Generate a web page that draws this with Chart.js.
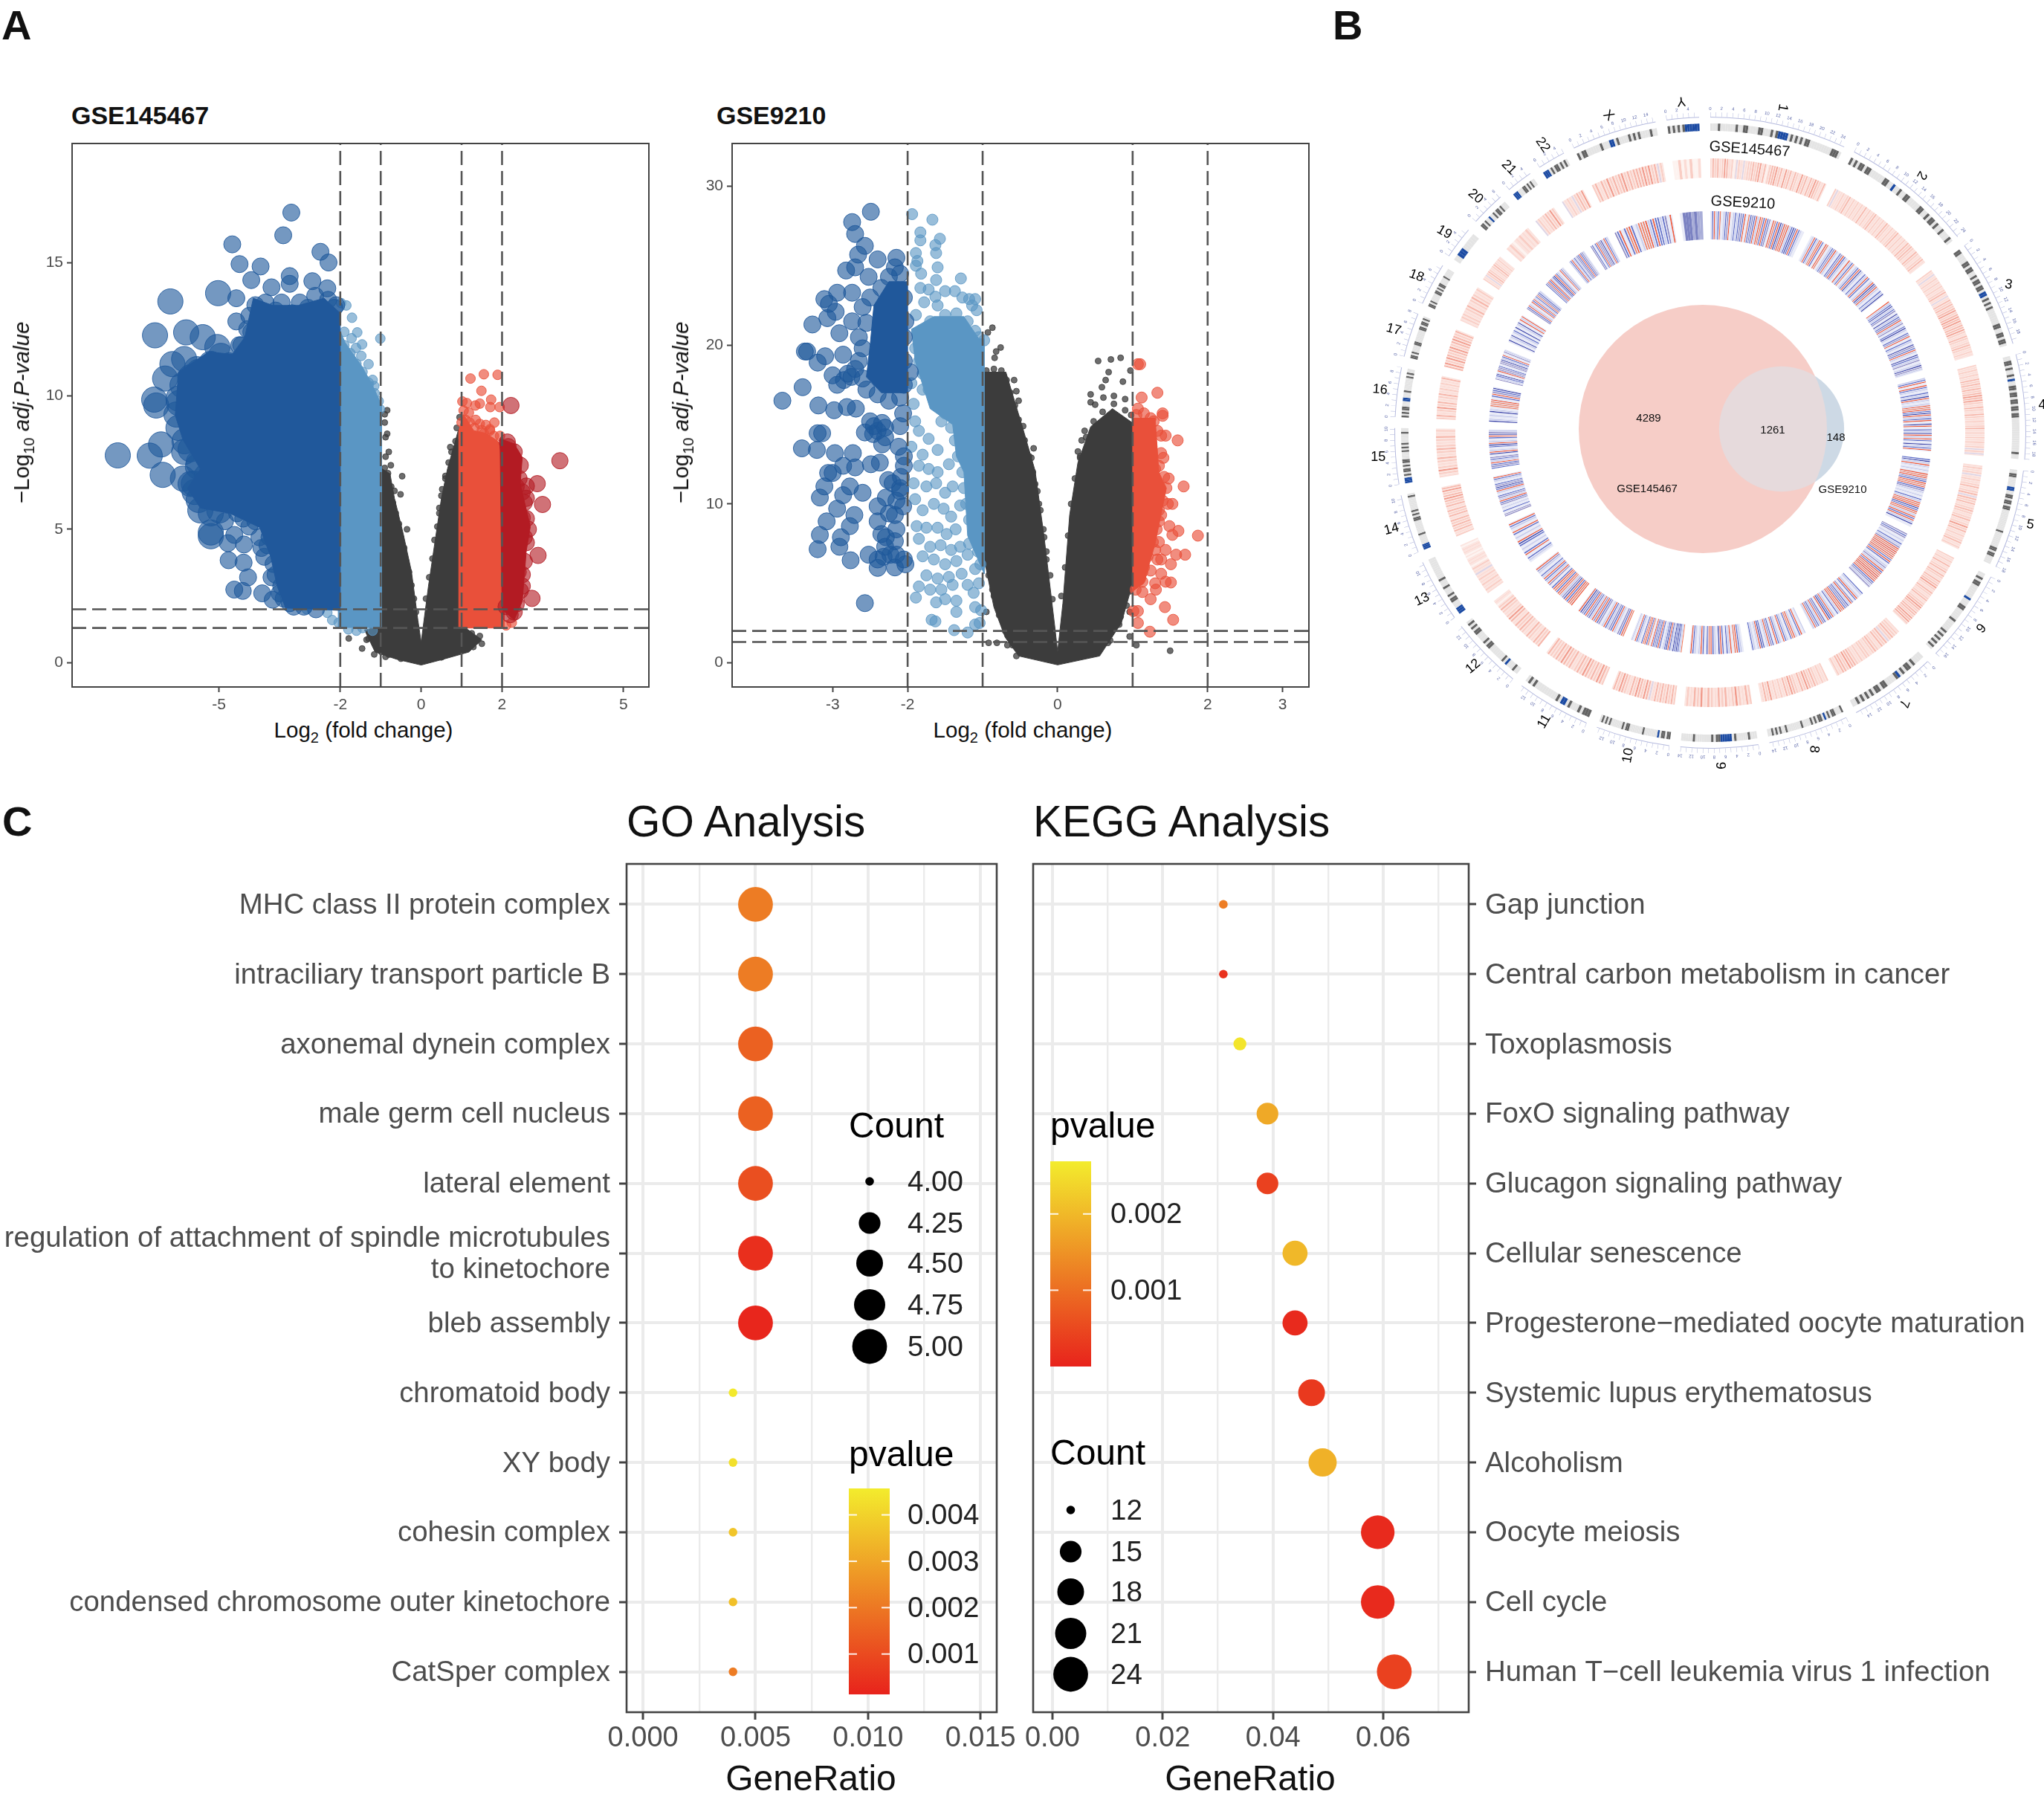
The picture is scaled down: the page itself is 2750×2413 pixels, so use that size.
<!DOCTYPE html>
<html>
<head>
<meta charset="utf-8">
<title>GSE145467 / GSE9210 figure</title>
<script src="https://cdn.jsdelivr.net/npm/chart.js"></script>
<style>
  body { margin: 0; background: #fff; font-family: "Liberation Sans", sans-serif; }
  #page { position: relative; width: 2750px; height: 2413px; overflow: hidden; }
  canvas { position: absolute; }
  .t { position: absolute; white-space: nowrap; transform: translate(-50%, -50%); color: #111; z-index: 5; }
  .l { transform: translate(0, -50%); }
  sub { font-size: 68%; line-height: 0; }
</style>
</head>
<body>
<div id="page">
  <canvas id="vol1" width="890" height="780" style="left:0;top:180px"></canvas>
  <canvas id="vol2" width="1780" height="780" style="left:0;top:180px"></canvas>
  <canvas id="circos" width="960" height="960" style="left:1821px;top:102px"></canvas>
  <canvas id="venn" width="420" height="420" style="left:2080px;top:370px"></canvas>
  <canvas id="go" width="1375" height="1220" style="left:0;top:1150px"></canvas>
  <canvas id="kegg" width="1400" height="1220" style="left:1350px;top:1150px"></canvas>

  <div class="t l" style="left:2px;top:33px;font:bold 56px 'Liberation Sans'">A</div>
  <div class="t l" style="left:1793px;top:33px;font:bold 56px 'Liberation Sans'">B</div>
  <div class="t l" style="left:3px;top:1104px;font:bold 56px 'Liberation Sans'">C</div>

  <div class="t l" style="left:96px;top:155px;font:bold 34px 'Liberation Sans'">GSE145467</div>
  <div class="t l" style="left:964px;top:155px;font:bold 34px 'Liberation Sans'">GSE9210</div>
  <div class="t" style="left:489px;top:982px;font-size:29.5px">Log<sub>2</sub> (fold change)</div>
  <div class="t" style="left:1376px;top:982px;font-size:29.5px">Log<sub>2</sub> (fold change)</div>
  <div class="t" style="left:29px;top:555px;font-size:29.5px;transform:translate(-50%,-50%) rotate(-90deg)">&minus;Log<sub>10</sub> <i>adj.P-value</i></div>
  <div class="t" style="left:916px;top:555px;font-size:29.5px;transform:translate(-50%,-50%) rotate(-90deg)">&minus;Log<sub>10</sub> <i>adj.P-value</i></div>

  <div class="t" style="left:2354px;top:200px;font-size:20px;transform:translate(-50%,-50%) rotate(4deg)">GSE145467</div>
  <div class="t" style="left:2345px;top:272px;font-size:20px;transform:translate(-50%,-50%) rotate(3deg)">GSE9210</div>
  <div class="t" style="left:2218px;top:561px;font-size:15px">4289</div>
  <div class="t" style="left:2385px;top:577px;font-size:15px">1261</div>
  <div class="t" style="left:2470px;top:587px;font-size:15px">148</div>
  <div class="t" style="left:2216px;top:656px;font-size:15px">GSE145467</div>
  <div class="t" style="left:2479px;top:657px;font-size:15px">GSE9210</div>

  <div class="t l" style="left:843px;top:1104px;font-size:58.4px">GO Analysis</div>
  <div class="t l" style="left:1390px;top:1104px;font-size:58.4px">KEGG Analysis</div>
  <div class="t" style="left:1091px;top:2391px;font-size:48px">GeneRatio</div>
  <div class="t" style="left:1682px;top:2391px;font-size:48px">GeneRatio</div>
</div>

<script>
// ---- panel A: volcano plots
const vLines = [-2, -1, 1, 2];
const hLines = [1.301, 2];

const v1Ticks = { x: [-5, -2, 0, 2, 5], y: [0, 5, 10, 15] };
const v1Range = { x: [-8.63, 5.63], y: [-0.91, 19.46] };
const v1DarkArea = [[-2,1.96],[-2,13.1],[-2.4,13.66],[-3.04,13.39],[-3.67,13.39],[-4.15,13.66],[-4.36,12.2],[-4.67,11.56],[-5.25,11.65],[-6,10.9],[-6.08,9.27],[-5.89,8.36],[-5.46,7.26],[-5.78,6.53],[-5.46,5.8],[-4.73,5.6],[-3.99,5.07],[-3.72,3.97],[-3.56,2.87],[-3.35,2.05],[-2,1.96]];
const v1LightArea = [[-2.05,1.32],[-2.05,12.6],[-1.88,12],[-1.46,11.1],[-1.14,10.2],[-0.98,9.64],[-0.98,1.32],[-2.05,1.32]];
const v1GrayArea = [[-1,1.3],[-1,7.3],[-0.77,7.08],[-0.66,6.16],[-0.45,4.88],[-0.24,3.42],[-0.08,1.59],[0,0.77],[0.18,2.87],[0.34,4.52],[0.5,6.16],[0.65,7.26],[0.92,8.72],[1,1.41],[1.5,0.86],[1.18,0.4],[0.55,0.13],[0,-0.09],[-0.61,0.13],[-1.14,0.4],[-1.4,1.23],[-1,1.3]];
const v1RedArea = [[0.93,1.3],[0.93,8.7],[1.05,9.3],[1.3,8.7],[1.6,8.6],[1.9,8.3],[2.05,7.9],[2.05,1.3],[0.93,1.3]];
const v1DeepArea = [[1.95,8.4],[2.3,8.2],[2.5,7.7],[2.45,6.7],[2.7,5.1],[2.6,4.2],[2.5,2.3],[2.3,1.6],[2,2],[1.95,8.4]];
const v1Dark = [[-3.21,16.87],[-3.41,16.02],[-4.67,15.68],[-4.49,14.94],[-3.97,14.85],[-2.49,15.4],[-2.29,15],[-4.2,14.34],[-3.25,14.49],[-3.25,14.2],[-2.69,14.3],[-3.7,14.07],[-2.32,14.03],[-5.02,13.85],[-4.57,13.66],[-6.2,13.54],[-2.62,13.75],[-6.58,12.27],[-5.81,12.38],[-5.4,12.2],[-4.57,12.79],[-5.04,11.83],[-6.15,11.19],[-5.86,11.38],[-6.33,10.65],[-6.6,9.86],[-6.55,9.64],[-5.99,9.73],[-6.43,8.18],[-7.5,7.77],[-6.71,7.76],[-6.39,7.04],[-5.89,6.9],[-5.86,7.9],[-5.52,7.35],[-5.62,6.71],[-5.46,5.71],[-4.99,5.71],[-5.2,4.88],[-5.2,4.74],[-4.78,4.48],[-4.62,4.79],[-4.38,4.43],[-4.76,3.84],[-4.39,3.75],[-3.88,3.97],[-4.28,3.2],[-4.62,2.74],[-4.41,2.69],[-3.93,2.6],[-3.67,2.36],[-3.46,2.87],[-3.25,2.23],[-2.1,13.4],[-2.4,12.9],[-3.9,13],[-4.2,12.4],[-4.45,11.9],[-5.55,11],[-5.7,10.3],[-4.1,5.3],[-4.4,5.4],[-3.8,4.4],[-3.7,3.2],
  [-2.15,13.3],[-2.3,13.6],[-2.55,13.2],[-2.8,13.3],[-3,13.5],[-3.2,13.1],[-3.45,13.5],[-3.6,13.2],[-3.85,13.5],[-4.1,13.4],[-4.25,13],[-4.3,12.5],[-4.5,11.9],[-4.75,11.3],[-4.95,11.5],[-5.2,11.2],[-5.5,10.9],[-5.7,10.7],[-5.9,10.4],[-6,9.9],[-6.05,9.3],[-6,8.8],[-5.85,8.3],[-5.7,8],[-5.5,7.5],[-5.3,7],[-5.6,6.4],[-5.7,6.7],[-5.5,6.1],[-5.2,5.6],[-4.85,5.3],[-4.55,5.6],[-4.25,5.1],[-4,4.7],[-3.95,4.3],[-3.75,4.7],[-3.65,3.7],[-3.6,3.3],[-3.5,2.6],[-3.4,2.4],[-3.15,2.1],[-2.9,2.1],[-2.6,2],[-3.3,3.7],[-3.5,4.4]];
const v1Light = [[-1.85,13.39],[-1.98,13.48],[-1.71,12.93],[-1.58,12.38],[-1.72,12.16],[-1.46,11.93],[-1.01,12.15],[-1.61,11.8],[-1.3,11.19],[-1.48,11.5],[-1.56,10.74],[-1.16,10.37],[-1.3,10.4],[-1.75,11.4],[-2.83,2],[-2.32,1.87],[-2.04,1.5],[-2.2,1.6],[-1.8,1.25],[-1.45,1.3],
  [-1.9,11.9],[-1.75,11.6],[-1.6,11.2],[-1.45,10.9],[-1.3,10.5],[-1.15,10.1],[-1.05,9.8],[-1.2,10.6],[-1.4,10.6],[-1.65,11.1],[-1.02,9.5],[-1.9,12.4],[-1.6,1.2],[-1.2,1.2]];
const v1Gray = [[-0.84,9.46],[-0.9,9.31],[-0.84,8.58],[-0.88,8.45],[-0.8,7.9],[-0.88,7.72],[-0.47,6.99],[-0.51,6.31],[-0.66,6.44],[0.72,8.08],[0.84,7.9],[0.6,6.9],[0.5,6.26],[0.58,6.07],[0.81,7.35],[0.92,8.27],[-1.79,0.91],[-1.46,0.53],[-1.16,0.31],[-1.35,0.86],[-1.09,0.68],[-0.88,0.22],[-0.98,0.4],[-1.24,1.13],[-0.93,0.86],[1.5,0.71],[1.29,0.59],[-0.9,9],[-0.75,7.4],[-0.35,5],[0.45,5.6],[0.95,9.2],[0.88,8.8],
  [-0.9,7.3],[-0.82,7.1],[-0.74,6.6],[-0.7,6],[-0.63,5.6],[-0.55,5.2],[-0.5,4.7],[-0.42,4.3],[-0.37,3.8],[-0.3,3.4],[-0.24,2.9],[-0.18,2.4],[-0.13,1.9],[0.12,2.4],[0.2,3.2],[0.28,3.9],[0.33,4.6],[0.4,5.1],[0.45,5.8],[0.52,6.5],[0.6,7],[0.68,7.5],[0.75,7.9],[0.85,8.3],[-1.3,0.9],[-1.1,0.6],[-0.8,0.3],[-0.5,0.15],[0.5,0.2],[0.8,0.4],[1.1,0.6],[1.35,0.8],[1.45,1],[1.25,1.1],[-1.2,1.25]];
const v1Red = [[1.22,10.65],[1.55,10.81],[1.89,10.79],[1.49,10.19],[1.73,9.86],[1.13,9.73],[1.45,9.71],[1.02,9.79],[1.34,9.64],[1.71,9.58],[1.94,9.58],[1.18,9.37],[1.81,9],[1.13,8.73],[1.5,8.72],[1.6,8.91],[2.24,1.5],[1.35,9.1],[1.05,9.45],[1.7,8.75],[2.1,1.4],
  [1,9],[1.1,9.1],[1.2,9],[1.32,8.8],[1.45,8.95],[1.55,8.6],[1.7,8.7],[1.8,8.5],[1.95,8.5]];
const v1Deep = [[2.22,9.64],[3.43,7.57],[2.87,6.71],[2.6,6.62],[3,5.93],[2.89,4.02],[2.74,2.41],[2.6,6.16],[2.13,8.27],[2.29,7.63],[2.5,5.43],[2.55,4.7],[2.5,2.87],[2.4,3.4],[2.35,6.6],[2.3,1.9],
  [2.15,8.1],[2.3,7.9],[2.45,7.4],[2.42,6.9],[2.5,6.4],[2.55,6],[2.6,5.4],[2.65,5],[2.6,4.5],[2.55,3.8],[2.5,3.3],[2.45,2.7],[2.35,2.2],[2.2,1.8],[2.1,2.1]];

const v2Ticks = { x: [-3, -2, 0, 2, 3], y: [0, 10, 20, 30] };
const v2Range = { x: [-4.34, 3.35], y: [-1.53, 32.7] };
const v2DarkArea = [[-2,24],[-2.25,24],[-2.45,22.5],[-2.5,20],[-2.55,18],[-2.35,17],[-2,17],[-2,24]];
const v2LightArea = [[-1.65,21.8],[-1.25,21.8],[-1.05,20.4],[-0.98,20.4],[-0.98,5.6],[-1.2,8],[-1.25,12],[-1.35,13],[-1.4,15],[-1.7,16],[-1.9,19],[-1.95,21],[-1.65,21.8]];
const v2GrayArea = [[-1,18.3],[-0.69,18.3],[-0.47,14.86],[-0.3,12.08],[-0.18,7.9],[-0.04,2.36],[0,0.69],[0.07,3.75],[0.16,9.3],[0.27,12.6],[0.44,14.86],[0.73,16],[1,15.1],[1,5],[0.85,2.5],[0.56,0.42],[0,-0.14],[-0.52,0.42],[-0.7,1.6],[-0.85,3.5],[-1,7],[-1,18.3]];
const v2RedArea = [[1,15.4],[1.3,15.4],[1.35,12],[1.45,11],[1.3,7.5],[1.15,5],[1,4.5],[1,15.4]];
const v2Dark = [[-2.49,28.4],[-2.74,27.75],[-2.7,27],[-2.57,26.25],[-2.66,25.7],[-2.82,24.7],[-2.7,24.9],[-2.4,25.4],[-2.15,25.5],[-2.17,24.9],[-2.52,24.3],[-2.94,23.3],[-2.74,23.3],[-3.11,22.9],[-3.05,22.6],[-2.96,22.1],[-3.07,21.7],[-3.27,21.3],[-2.91,20.75],[-2.74,21.5],[-3.37,19.6],[-3.34,19.6],[-3.1,19.3],[-3.2,18.9],[-2.86,19.4],[-3,18.1],[-2.94,17.5],[-3.4,17.35],[-3.67,16.5],[-3.19,16.2],[-2.98,15.9],[-2.81,16.1],[-2.69,16],[-3.2,14.45],[-3.14,14.45],[-2.57,14.5],[-2.46,14.4],[-3.41,13.5],[-3.21,13.4],[-2.97,13.2],[-2.73,13.2],[-2.34,15.1],[-2.34,13.75],[-2.12,13.6],[-2.86,12.4],[-2.7,12.3],[-2.49,12.5],[-2.37,12.6],[-3.06,11.95],[-3,11.95],[-3.11,11.1],[-3.17,10.4],[-2.77,11.1],[-2.6,10.7],[-2.86,10.55],[-2.94,9.7],[-2.71,9.3],[-2.4,9.85],[-2.26,11.5],[-3.08,8.9],[-3.17,8.05],[-2.77,8.6],[-2.89,7.9],[-3.2,7.15],[-2.91,7.3],[-2.76,6.45],[-2.52,6.8],[-2.4,5.97],[-2.4,6.5],[-2.17,6],[-2.03,6.2],[-2.57,3.75],[-2.29,7.9],[-2.17,7.65],[-2.4,8.9],[-2.06,9.85],[-2.09,11.7],[-2.03,21.5],[-1.97,18.3],[-2.06,15.7],[-2.29,10.4],[-2.17,9.3],[-2.23,6.8],[-2.32,6.67],[-2.1,10.8],[-2.15,8.4],[-2.3,14.8],[-2.5,15.2],[-2.8,18.2],[-2.85,17.8],
  [-2.1,24.5],[-2.25,24.3],[-2.35,23.6],[-2.5,23],[-2.6,22.4],[-2.55,21.4],[-2.65,20.5],[-2.6,19.8],[-2.65,19],[-2.7,18.5],[-2.6,17.9],[-2.55,17.2],[-2.4,16.9],[-2.25,16.5],[-2.1,16.7],[-2.05,17.5],[-2.05,19],[-2.05,20.5],[-2.05,23],[-2.75,18],[-2.45,14.9],[-2.4,14.6],[-2.3,14.2],[-2.2,11.3],[-2.1,11],[-2.05,12.4],[-2.15,10.2],[-2.25,9.4],[-2.35,8.1],[-2.3,7.3],[-2.15,6.8],[-2.05,6.5],[-2.1,14.9],[-2.05,13]];
const v2Light = [[-1.94,28.25],[-1.67,27.9],[-1.83,27.1],[-1.83,26.6],[-1.57,26.7],[-1.63,26.3],[-1.62,25.8],[-1.89,25.8],[-1.87,25.3],[-1.6,24.9],[-1.82,24.5],[-1.89,25],[-1.29,24.2],[-1.62,24.1],[-1.83,23.6],[-1.72,23.5],[-1.5,23.4],[-1.37,23.4],[-1.63,23.05],[-1.27,23],[-1.18,22.9],[-1.1,22.9],[-1.78,22.7],[-1.6,22.5],[-1.14,22.5],[-1.08,22.2],[-1.89,21.9],[-1.92,16.3],[-1.9,15.2],[-1.85,14.6],[-1.95,13.6],[-1.8,13.1],[-1.72,14.1],[-1.6,13.4],[-1.85,12.4],[-1.72,12.2],[-1.6,12],[-1.45,12.5],[-1.92,11.3],[-1.75,11.1],[-1.62,11.3],[-1.5,10.7],[-1.4,11.1],[-1.9,10.3],[-1.8,9.6],[-1.65,10],[-1.52,9.7],[-1.42,9.2],[-1.3,9.9],[-1.88,8.6],[-1.75,8.5],[-1.6,8.5],[-1.48,8.1],[-1.36,8.4],[-1.85,7.8],[-1.7,7.3],[-1.56,7.4],[-1.42,7.1],[-1.3,7.3],[-1.18,7.5],[-1.8,6.7],[-1.65,6.5],[-1.5,6.2],[-1.35,6.4],[-1.2,6.8],[-1.1,5.9],[-1.75,5.5],[-1.6,5.3],[-1.45,5.4],[-1.28,5.6],[-1.05,5],[-1.85,4.8],[-1.7,4.6],[-1.55,4.6],[-1.4,4.9],[-1.2,4.9],[-1.12,4.4],[-1.89,4.1],[-1.62,3.8],[-1.5,4],[-1.35,3.9],[-1.1,3.5],[-1.02,3.3],[-1.35,3.2],[-1.68,2.7],[-1.63,2.6],[-1.38,2.05],[-1.2,1.9],[-1.1,2.4],[-1.04,2.5],[-1.55,15.2],[-1.8,17.2],[-1.75,18.4],[-1.95,17.6],
  [-1.7,21.5],[-1.85,20.8],[-1.9,19.8],[-1.85,19],[-1.8,18.2],[-1.72,17.2],[-1.6,16.5],[-1.5,15.7],[-1.42,14.8],[-1.37,14],[-1.33,13],[-1.27,12],[-1.25,11],[-1.22,10],[-1.18,9],[-1.12,8],[-1.06,7],[-1.03,6.2],[-1.5,21.9],[-1.35,22],[-1.2,21.5],[-1.1,20.9],[-1.05,20.5],[-0.98,20.3],[-1.7,19],[-1.6,18],[-1.5,17]];
const v2Gray = [[-0.87,21.1],[-0.93,20.8],[-0.76,19.85],[-0.82,19.6],[-0.84,19.2],[-0.58,17.8],[-0.55,17.1],[-0.52,16.5],[-0.46,14.9],[-0.32,13.5],[-0.35,12.9],[-0.3,11.25],[-0.18,7.9],[-0.15,6.5],[-0.92,1.25],[-0.81,1.25],[-0.67,1.1],[-0.55,0.42],[-0.81,3.75],[-0.95,3.2],[-0.87,4.6],[-0.69,2.1],[-0.95,6.25],[-0.78,6],[-0.84,7.6],[0.54,19],[0.71,19.1],[0.84,19.2],[0.68,18.3],[0.97,18.4],[0.64,17.8],[0.87,17.7],[0.59,17.35],[0.44,16.9],[0.44,16.4],[0.5,16.25],[0.61,16.7],[0.36,14.6],[0.32,14],[0.27,13.3],[1.5,0.75],[1.05,1.1],[0.96,1.65],[0.67,1.25],[0.5,0.7],[0.84,2.9],[0.96,3.2],[0.73,2.4],[0.87,4.86],[0.61,3.75],[0.79,6.5],[0.9,5.7],[-0.6,16],[-0.42,13],[-0.25,10],[0.75,16.8],[0.9,16.6],[0.3,12.9],
  [-0.95,18.4],[-0.85,18.5],[-0.75,18.4],[-0.68,17.8],[-0.63,17],[-0.57,16.2],[-0.52,15.3],[-0.44,14],[-0.38,13],[-0.33,12],[-0.27,10.8],[-0.23,9.6],[-0.19,8.4],[-0.15,7],[-0.1,5.5],[-0.07,4],[-0.98,8],[-0.95,7],[-0.92,5.5],[-0.85,4.2],[-0.78,3],[-0.7,2],[-0.6,1.1],[0.05,4.2],[0.1,6],[0.14,8],[0.18,10],[0.23,11.6],[0.3,13],[0.38,14.2],[0.48,15.2],[0.6,15.8],[0.75,16.3],[0.9,15.9],[0.98,15.6],[0.97,4.5],[0.92,3.6],[0.82,2.4],[0.7,1.4],[0.55,0.8]];
const v2Red = [[1.07,18.8],[1.1,18.8],[1.33,17],[1.12,16.7],[1.07,16],[1.4,15.7],[1.4,15.55],[1.24,15.4],[1.44,14.3],[1.38,14.3],[1.6,14],[1.24,14],[1.41,12.9],[1.48,11.6],[1.68,11.1],[1.35,10.7],[1.47,10],[1.53,10],[1.38,9.3],[1.35,8.9],[1.49,8.6],[1.61,8.3],[1.53,8.05],[1.87,8],[1.44,7.1],[1.58,6.8],[1.7,6.8],[1.38,6.5],[1.51,6.2],[1.24,5.8],[1.51,5.05],[1.31,4.6],[1.13,4.45],[1.24,4],[1.43,3.5],[1.01,3.25],[1.07,3.25],[1.54,2.7],[1.07,2.5],[1.23,1.95],[1.13,5.1],[1.3,7.1],[1.21,7.9],[1.13,6.8],[1.35,7.6],[1.18,9.3],[1.44,5.1],[1.33,6.5],[1.38,5.6],[1.13,5.7],[1.3,5],[1.07,6.5],
  [1.05,15.6],[1.15,15.7],[1.28,15.2],[1.33,14.6],[1.38,13.2],[1.35,12.4],[1.42,11.7],[1.45,11],[1.4,10.2],[1.35,9.6],[1.32,8.4],[1.27,7.6],[1.2,6.7],[1.15,6],[1.1,5.3],[1.04,4.6],[1.25,13.6],[1.3,12.2]];

// ---- panel B: circos rings, one string per chromosome, one letter per stripe
const chromNames = ['1','2','3','4','5','6','7','8','9','10','11','12','13','14','15','16','17','18','19','20','21','22','X','Y'];
const chromSizes = [249,243,198,191,181,171,159,146,141,135,135,133,115,107,102,90,81,78,59,63,48,51,155,59];
const chromLabelTilt = [100,120,10,0,10,130,110,95,90,-80,-60,-40,-25,-15,0,5,15,20,30,40,45,55,45,175];
const ideogram = [
  '...d......d..dd....dd...d.dbbbb.d.d.d.dd.........ddd.',
  'd.d.dd.dd......dd..b..d..dd.....dd..d.dd.d..d...d.',
  'dd....dd.dd..d.dd.dd.bb.d.d.d.......dd..dd.dd.',
  '..dd.d..d.b..dd.dd.dd.dd.dd...............d..',
  '..dd.....bb..dd.dd.dd...........d........dd.dd....',
  '..d.dd......b...dd.....d.....d.d.d.d.d.',
  '....d.dd.d.bd....dd.dd.d.d.d.d..',
  'd...dd.d.b.dd.d.d....d.......d..d.d.d..',
  '...d.....d.bbbbbdd.d.......d.....',
  'dd.dd.b.......d.......dd.d......d.d.d.',
  'ddd.d...d.bb.d.........d.d.',
  '..d...b.d.......dd.d....dd.d.d.',
  'bbb...dd.d...d...d..........',
  'bbb.....d.......dd.d.d.......d.',
  'bbb.d.dd.d.dd....d.d.d.....d..',
  'd.d.dd...bb...d.......d.d..',
  'dd.d....dd.......dd.dd.d.',
  'dd.d.....dd.d.dd....d.....',
  '..bbb......',
  'dd.d..b..d.dd.d...',
  'bbb...dd.d.d..',
  'bbb.d.dd.d.d.',
  'd.dd......d...bb.d....d.d.d....d..',
  'd.d.d.dbbbbbb'
];
const heatA = [
  '13231243120v21v12232341302334231423132142313243213',
  '2v11212312121213121231212132121231212132321321231',
  '21v1212121231v132323423434233421321232121',
  '212121323232343421321321212312121212v2v',
  '1212v12123123v3231232123124231212312',
  '212131231321323421321231234323324342',
  '12232v3231232122121233423312',
  '21212323423123423121214231',
  '2312421323123142312',
  '232323231v3423423123423',
  '234232342321323423223',
  '323123123231342123201',
  '1212121v1201100110',
  '21323231323132343243',
  '1242123123212312',
  '2312423123121213',
  '34243234234323',
  '122123123212',
  '21v2321232121',
  '1201212',
  'v2123242',
  'v121v2324',
  '2313242323423233343423v2',
  '0020102001'
];
const heatB = [
  'wbrlbowlbprwlblbpbrwobpbrlrobrbpwrobrnprorlbnbrblw',
  'wlrblorbwrowlbprlwbprblwrlbowlbrnlwblrbwlrnprlwbln',
  'rlbnlbpwnlbprlpwbnlwbprwblwnpbrlwnblpwlnpl',
  'lbrwrblwblnrlwlrorbnrlbrwnrwblnrlrbwnlbr',
  'bnlrlwlwrorpbrorbplwlwblrornbrolrbrlnw',
  'pbpwlwblprorrorobrbwlplrbrorrorbplp',
  'blwlrbwprlbpbrorlbwlrbnrwbprlbprl',
  'lwrbwlrobwlbrwlbrwbprlwbnrlwlb',
  'wlbrowrlbwbrnwlbrobwbrlwlbr',
  'olbnbnlbrnblwbrbpbrwobrobwlbrwl',
  'orbpwlrbplbrlwpbrprlbprbpnr',
  'rorbrnplorborbwprlbrlbwlpr',
  'wlbwrbwlwbnrwlwbrwlbr',
  'ppwbwlwpbrlpbwlrbnpbwlbr',
  'bpbrlbpwnrlwbnrlwbrnpl',
  'nlwlwnlwooorwbrpbn',
  'plbnwrppbwppnlbrwpl',
  'wnwlnwlbwnwlnwrlr',
  'pbrlwrbrlbopbl',
  'bprbrlbnrblwrpl',
  'lbrlblpbrbpl',
  'pbwbrppnlrbl',
  'pbrwborbwlooorlbrbblbpwr',
  'wyyyzyzz'
];
// ---- Venn in panel B, counts as printed
const vennOnlyA = 4289, vennShared = 1261, vennOnlyB = 148;

// ---- panel C: enrichment dot plots
const goTerms = ['MHC class II protein complex','intraciliary transport particle B','axonemal dynein complex','male germ cell nucleus','lateral element',['regulation of attachment of spindle microtubules','to kinetochore'],'bleb assembly','chromatoid body','XY body','cohesin complex','condensed chromosome outer kinetochore','CatSper complex'];
const goRatio = [0.005,0.005,0.005,0.005,0.005,0.005,0.005,0.004,0.004,0.004,0.004,0.004];
const goCount = [5,5,5,5,5,5,5,4,4,4,4,4];
const goP = [0.0021,0.0021,0.0015,0.0015,0.0011,0.0004,0.0002,0.0045,0.0043,0.0037,0.0036,0.0021];
const goTicks = [0,0.0025,0.005,0.0075,0.01,0.0125,0.015];
const goCountBreaks = [4,4.25,4.5,4.75,5];
const goPBreaks = [0.004,0.003,0.002,0.001];

const keggTerms = ['Gap junction','Central carbon metabolism in cancer','Toxoplasmosis','FoxO signaling pathway','Glucagon signaling pathway','Cellular senescence','Progesterone\u2212mediated oocyte maturation','Systemic lupus erythematosus','Alcoholism','Oocyte meiosis','Cell cycle','Human T\u2212cell leukemia virus 1 infection'];
const keggRatio = [0.031,0.031,0.034,0.039,0.039,0.044,0.044,0.047,0.049,0.059,0.059,0.062];
const keggCount = [12,12,13,15,15,17,17,18,19,23,23,24];
const keggP = [0.0012,0.0002,0.0026,0.0018,0.0004,0.002,0.0001,0.0003,0.0019,0.0001,0.0001,0.0004];
const keggTicks = [0,0.01,0.02,0.03,0.04,0.05,0.06,0.07];
const keggCountBreaks = [12,15,18,21,24];
const keggPBreaks = [0.002,0.001];

// ---- shared helpers
const sans = '"Liberation Sans", sans-serif';
const legendRadii = [5.8, 14.6, 18, 21, 23.4];
const toPts = a => a.map(([x, y]) => ({ x, y }));

function radiusFor(count, breaks) {
  for (let i = 1; i < breaks.length; i++) {
    if (count <= breaks[i]) {
      const f = (count - breaks[i - 1]) / (breaks[i] - breaks[i - 1]);
      return legendRadii[i - 1] + f * (legendRadii[i] - legendRadii[i - 1]);
    }
  }
  return legendRadii[legendRadii.length - 1];
}

function pColor(p, lo, hi) {
  const t = Math.min(1, Math.max(0, (p - lo) / (hi - lo)));
  const a = [232, 35, 28], b = [243, 236, 45];
  return `rgb(${a.map((c, i) => Math.round(c + t * (b[i] - c))).join(',')})`;
}

const frame = {
  id: 'frame',
  afterDraw(chart) {
    const { ctx, chartArea: c } = chart;
    ctx.save();
    ctx.strokeStyle = chart.options.plugins.frame.color;
    ctx.lineWidth = chart.options.plugins.frame.width;
    ctx.strokeRect(c.left, c.top, c.right - c.left, c.bottom - c.top);
    ctx.restore();
  }
};
// the scales would otherwise keep room for half a tick label
const noScalePadding = s => { s.paddingTop = s.paddingBottom = s.paddingLeft = s.paddingRight = 0; };

// ---- volcano
function area(pts, color) {
  return { data: toPts(pts), showLine: true, fill: 'shape', backgroundColor: color, borderColor: color, borderWidth: 1, pointRadius: 0, tension: 0 };
}
function dots(pts, color, edge, radius) {
  return { data: toPts(pts), showLine: false, pointRadius: radius, pointBackgroundColor: color, pointBorderColor: edge, pointBorderWidth: 1 };
}
function rule(points) {
  return { data: points, showLine: true, borderColor: '#555', borderWidth: 2.6, borderDash: [19, 8], pointRadius: 0, fill: false };
}

function volcano(id, layers, range, ticks, left, right) {
  const lines = [
    ...vLines.map(v => rule([{ x: v, y: range.y[0] }, { x: v, y: range.y[1] }])),
    ...hLines.map(v => rule([{ x: range.x[0], y: v }, { x: range.x[1], y: v }]))
  ];
  // earlier in this list means painted later
  const datasets = [...lines, ...layers];
  return new Chart(document.getElementById(id), {
    type: 'scatter',
    data: { datasets },
    plugins: [frame],
    options: {
      responsive: false, animation: false, events: [],
      layout: { autoPadding: false, padding: { left: 0, right, top: 13, bottom: 0 } },
      plugins: { legend: { display: false }, tooltip: { enabled: false }, frame: { color: '#444', width: 2 } },
      scales: {
        x: {
          type: 'linear', min: range.x[0], max: range.x[1],
          afterBuildTicks: s => { s.ticks = ticks.x.map(value => ({ value })); },
          afterFit: s => { s.height = 36; noScalePadding(s); },
          grid: { drawOnChartArea: false, tickLength: 7, tickColor: '#444', tickWidth: 2 },
          border: { display: false },
          ticks: { autoSkip: false, maxRotation: 0, padding: 5, color: '#4d4d4d', font: { family: sans, size: 21 } }
        },
        y: {
          type: 'linear', min: range.y[0], max: range.y[1],
          afterBuildTicks: s => { s.ticks = ticks.y.map(value => ({ value })); },
          afterFit: s => { s.width = left; noScalePadding(s); },
          grid: { drawOnChartArea: false, tickLength: 7, tickColor: '#444', tickWidth: 2 },
          border: { display: false },
          ticks: { autoSkip: false, padding: 5, color: '#4d4d4d', font: { family: sans, size: 21 } }
        }
      }
    }
  });
}

const blueA = 'rgba(31,88,155,0.62)', blueE = 'rgba(31,88,155,0.85)';
const skyA = 'rgba(90,150,196,0.62)', skyE = 'rgba(90,150,196,0.85)';
const grayA = 'rgba(60,60,60,0.75)', grayE = 'rgba(60,60,60,0.85)';
const redA = 'rgba(233,80,58,0.65)', redE = 'rgba(233,80,58,0.85)';
const deepA = 'rgba(179,27,35,0.62)', deepE = 'rgba(179,27,35,0.85)';

volcano('vol1', [
  area(v1DarkArea, '#20589b'),
  dots(v1Dark, blueA, blueE, c => Math.abs(c.raw.x) >= 4.9 ? 17 : 11.5),
  area(v1DeepArea, '#b31b23'),
  dots(v1Deep, deepA, deepE, 11),
  area(v1LightArea, '#5a96c4'),
  dots(v1Light, skyA, skyE, 6.5),
  area(v1RedArea, '#e9503a'),
  dots(v1Red, redA, redE, 6.5),
  area(v1GrayArea, '#3c3c3c'),
  dots(v1Gray, grayA, grayE, 4)
], v1Range, v1Ticks, 97, 17);

volcano('vol2', [
  area(v2DarkArea, '#20589b'),
  dots(v2Dark, blueA, blueE, 11.5),
  area(v2LightArea, '#5a96c4'),
  dots(v2Light, skyA, skyE, 7.5),
  area(v2RedArea, '#e9503a'),
  dots(v2Red, redA, redE, 7.5),
  area(v2GrayArea, '#3c3c3c'),
  dots(v2Gray, grayA, grayE, 4)
], v2Range, v2Ticks, 985, 19);

// ---- circos
const gapMb = 20;
const clear = 'rgba(0,0,0,0)';
const bandPalette = { '.': '#e4e4e4', d: '#636363', b: '#1c4ba3' };
const heatAPalette = { 0: '#fdf3f0', 1: '#fbdcd6', 2: '#f9cdc4', 3: '#f6b5a9', 4: '#f19a8b', v: '#dcd4e6' };
const heatBPalette = { w: '#e9ebf7', l: '#c4c9ea', b: '#5d6cc6', n: '#3d46a8', p: '#8b87c0', r: '#ee5a3c', o: '#f07d5e', y: '#7b82c2', z: '#a8add8' };

// each letter is a thin stripe on a pale ground, Y is drawn in solid blocks
function ring(strings, palette, ground) {
  const data = [], backgroundColor = [];
  strings.forEach((s, i) => {
    const share = chromSizes[i] / s.length;
    for (const ch of s) {
      if (ground && chromNames[i] !== 'Y') {
        data.push(share * 0.55, share * 0.45);
        backgroundColor.push(palette[ch], ground);
      } else {
        data.push(share);
        backgroundColor.push(palette[ch]);
      }
    }
    data.push(gapMb); backgroundColor.push(clear);
  });
  return { data, backgroundColor };
}
function tickRing() {
  const data = [], backgroundColor = [];
  chromSizes.forEach(size => {
    let left = size;
    for (let m = 0; m * 10 <= size; m++) {
      data.push(0.6); backgroundColor.push('#aab0d8'); left -= 0.6;
      const step = Math.min(9.4, Math.max(left, 0));
      data.push(step); backgroundColor.push(clear); left -= step;
    }
    data.push(gapMb + Math.max(left, 0)); backgroundColor.push(clear);
  });
  return { data, backgroundColor };
}
const blank = { data: [1], backgroundColor: [clear] };

const chromText = {
  id: 'chromText',
  afterDraw(chart) {
    const { ctx, chartArea: c } = chart;
    const cx = (c.left + c.right) / 2, cy = (c.top + c.bottom) / 2;
    const total = chromSizes.reduce((a, b) => a + b + gapMb, 0);
    const pos = mb => mb / total * Math.PI * 2;
    ctx.save();
    ctx.textAlign = 'center';
    ctx.textBaseline = 'middle';
    let start = 0;
    chromSizes.forEach((size, i) => {
      ctx.fillStyle = '#5a66a8';
      ctx.font = `6px ${sans}`;
      for (let m = 0; m * 10 <= size; m += 2) {
        const a = pos(start + m * 10);
        ctx.save();
        ctx.translate(cx + 436 * Math.sin(a), cy - 436 * Math.cos(a));
        ctx.rotate(a);
        ctx.fillText(String(m), 0, 0);
        ctx.restore();
      }
      const mid = pos(start + size / 2);
      ctx.save();
      ctx.translate(cx + 448 * Math.sin(mid), cy - 448 * Math.cos(mid));
      ctx.rotate(chromLabelTilt[i] * Math.PI / 180);
      ctx.fillStyle = '#000';
      ctx.font = `18px ${sans}`;
      ctx.fillText(chromNames[i], 0, 0);
      ctx.restore();
      start += size + gapMb;
    });
    ctx.restore();
  }
};

new Chart(document.getElementById('circos'), {
  type: 'doughnut',
  data: {
    datasets: [
      { ...tickRing(), weight: 6 },
      { ...ring(chromSizes.map(() => 'x'), { x: '#b5bade' }), weight: 1 },
      { ...blank, weight: 8 },
      { ...ring(ideogram, bandPalette), weight: 10 },
      { ...blank, weight: 37 },
      { ...ring(heatA, heatAPalette, '#fbe4df'), weight: 26 },
      { ...blank, weight: 45 },
      { ...ring(heatB, heatBPalette, '#e4e6f6'), weight: 38 }
    ]
  },
  plugins: [chromText],
  options: {
    responsive: false, animation: false, events: [],
    cutout: 260,
    layout: { autoPadding: false, padding: 49 },
    elements: { arc: { borderWidth: 0 } },
    plugins: { legend: { display: false }, tooltip: { enabled: false } }
  }
});

// ---- venn: radius follows the set sizes, layers painted with compositing
const vennR = n => 167 * Math.sqrt(n / (vennOnlyA + vennShared));
const vennPaint = {
  id: 'vennPaint',
  beforeDatasetDraw(chart, args) { chart.ctx.globalCompositeOperation = chart.data.datasets[args.index].paint || 'source-over'; },
  afterDatasetDraw(chart) { chart.ctx.globalCompositeOperation = 'source-over'; }
};
const bigSet = { x: 0, y: 0, r: vennR(vennOnlyA + vennShared) };
const smallSet = { x: 106, y: 0, r: vennR(vennOnlyB + vennShared) };
new Chart(document.getElementById('venn'), {
  type: 'bubble',
  data: {
    datasets: [
      { data: [bigSet], backgroundColor: '#f6cdc7', borderWidth: 0, order: 3 },
      { data: [smallSet], backgroundColor: '#e6dadc', borderWidth: 0, order: 2, paint: 'source-atop' },
      { data: [smallSet], backgroundColor: '#cdd9e5', borderWidth: 0, order: 1, paint: 'destination-over' }
    ]
  },
  plugins: [vennPaint],
  options: {
    responsive: false, animation: false, events: [],
    layout: { autoPadding: false },
    plugins: { legend: { display: false }, tooltip: { enabled: false } },
    scales: {
      x: { display: false, min: -211, max: 209 },
      y: { display: false, min: -213, max: 207 }
    }
  }
});

// ---- dot plots
function legendPlugin(cfg) {
  return {
    id: 'dotLegend',
    afterDatasetsDraw(chart) {
      const { ctx } = chart;
      const ox = cfg.originX, oy = 1150, nudge = 2;
      ctx.save();
      ctx.textBaseline = 'middle';
      ctx.textAlign = 'left';
      ctx.fillStyle = '#000';
      ctx.font = `48px ${sans}`;
      ctx.fillText('Count', cfg.countTitle[0] - ox, cfg.countTitle[1] - oy + nudge);
      ctx.fillText('pvalue', cfg.pTitle[0] - ox, cfg.pTitle[1] - oy + nudge);

      ctx.font = `38.5px ${sans}`;
      cfg.counts.forEach((n, i) => {
        const y = cfg.countY[i] - oy;
        ctx.fillStyle = '#000';
        ctx.beginPath();
        ctx.arc(cfg.dotX - ox, y, radiusFor(n, cfg.counts), 0, Math.PI * 2);
        ctx.fill();
        ctx.fillStyle = '#222';
        ctx.fillText(cfg.countText(n), cfg.labelX - ox, y + nudge);
      });

      const [bx, bw] = cfg.barX, [by0, by1] = cfg.barY;
      const grad = ctx.createLinearGradient(0, by0 - oy, 0, by1 - oy);
      grad.addColorStop(0, pColor(1, 0, 1));
      grad.addColorStop(1, pColor(0, 0, 1));
      ctx.fillStyle = grad;
      ctx.fillRect(bx - ox, by0 - oy, bw, by1 - by0);
      cfg.pBreaks.forEach(p => {
        const y = by1 - oy - (p - cfg.pLo) / (cfg.pHi - cfg.pLo) * (by1 - by0);
        ctx.fillStyle = 'rgba(255,255,255,0.9)';
        ctx.fillRect(bx - ox, y - 1, 11, 2);
        ctx.fillRect(bx - ox + bw - 11, y - 1, 11, 2);
        ctx.fillStyle = '#222';
        ctx.fillText(p.toFixed(3), cfg.labelX - ox, y + nudge);
      });
      ctx.restore();
    }
  };
}

function dotPlot(id, o) {
  return new Chart(document.getElementById(id), {
    type: 'scatter',
    data: {
      datasets: [{
        data: o.ratio.map((x, i) => ({ x, y: i + 1 })),
        pointRadius: c => radiusFor(o.count[c.dataIndex], o.legend.counts),
        pointBackgroundColor: c => pColor(o.p[c.dataIndex], o.legend.pLo, o.legend.pHi),
        pointBorderWidth: 0
      }]
    },
    plugins: [frame, legendPlugin(o.legend)],
    options: {
      responsive: false, animation: false, events: [],
      layout: { autoPadding: false, padding: o.padding },
      plugins: { legend: { display: false }, tooltip: { enabled: false }, frame: { color: '#444', width: 2.6 } },
      scales: {
        x: {
          type: 'linear', min: o.xRange[0], max: o.xRange[1],
          afterBuildTicks: s => { s.ticks = o.ticks.map(value => ({ value })); },
          afterFit: s => { s.height = 67; noScalePadding(s); },
          grid: {
            color: '#ebebeb',
            lineWidth: c => o.isMajor(c.tick.value) ? 4 : 2.4,
            tickLength: 10,
            tickWidth: 3,
            tickColor: c => o.isMajor(c.tick.value) ? '#444' : clear
          },
          border: { display: false },
          ticks: {
            autoSkip: false, maxRotation: 0, padding: 3, color: '#4d4d4d',
            font: { family: sans, size: 38 },
            callback: v => o.isMajor(v) ? v.toFixed(o.digits) : ''
          }
        },
        y: {
          type: 'linear', position: o.side, reverse: true, min: 0.42, max: 12.58,
          afterBuildTicks: s => { s.ticks = o.terms.map((_, i) => ({ value: i + 1 })); },
          afterFit: s => { s.width = o.yWidth; noScalePadding(s); },
          grid: { color: '#ebebeb', lineWidth: 4, tickLength: 10, tickWidth: 3, tickColor: '#444' },
          border: { display: false },
          ticks: {
            autoSkip: false, padding: 12, labelOffset: 2, color: '#4d4d4d',
            font: { family: sans, size: 38.4, lineHeight: 1.1 },
            callback: v => o.terms[v - 1]
          }
        }
      }
    }
  });
}

dotPlot('go', {
  terms: goTerms, ratio: goRatio, count: goCount, p: goP,
  ticks: goTicks, xRange: [-0.00073, 0.01572], digits: 3,
  isMajor: v => Math.abs(v / 0.005 - Math.round(v / 0.005)) < 1e-6,
  side: 'left', yWidth: 843, padding: { left: 0, right: 34, top: 12, bottom: 0 },
  legend: {
    originX: 0, counts: goCountBreaks, countText: n => n.toFixed(2),
    countTitle: [1142, 1515], pTitle: [1142, 1957],
    dotX: 1170, labelX: 1221, countY: [1589, 1645, 1699, 1755, 1811],
    barX: [1142, 55], barY: [2002, 2279], pBreaks: goPBreaks, pLo: 0.00013, pHi: 0.00457
  }
});

dotPlot('kegg', {
  terms: keggTerms, ratio: keggRatio, count: keggCount, p: keggP,
  ticks: keggTicks, xRange: [-0.0035, 0.0755], digits: 2,
  isMajor: v => Math.abs(v / 0.02 - Math.round(v / 0.02)) < 1e-6,
  side: 'right', yWidth: 774, padding: { left: 40, right: 0, top: 12, bottom: 0 },
  legend: {
    originX: 1350, counts: keggCountBreaks, countText: n => String(n),
    countTitle: [1413, 1955], pTitle: [1413, 1515],
    dotX: 1440.5, labelX: 1494, countY: [2031, 2087, 2141, 2197, 2252],
    barX: [1413, 55], barY: [1562, 1838], pBreaks: keggPBreaks, pLo: 0, pHi: 0.00269
  }
});
</script>
</body>
</html>
